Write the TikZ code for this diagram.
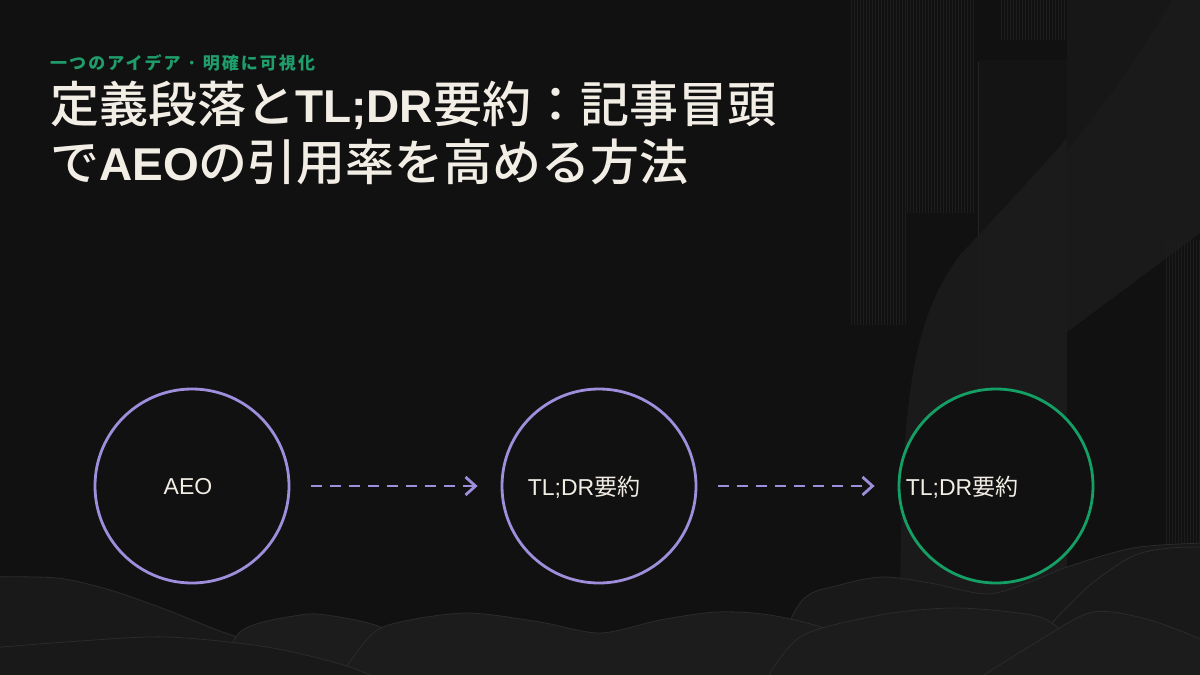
\documentclass[tikz,border=0pt]{standalone}
\usepackage{fontspec}
\newfontfamily\jp{Noto Sans CJK JP}
\IfFontExistsTF{Noto Sans CJK JP Medium}
  {\newfontfamily\jpt{Noto Sans CJK JP Medium}\newcommand\titlewt{}}
  {\newfontfamily\jpt{Noto Sans CJK JP}\newcommand\titlewt{\bfseries}}
\newfontfamily\jpsp{Noto Sans CJK JP}[LetterSpace=12]
\newfontfamily\lsans{Liberation Sans}
\newcommand\titlelatin[1]{{\lsans\bfseries\fontsize{46}{58}\selectfont #1}}
\usetikzlibrary{arrows.meta}
\definecolor{bg}{HTML}{111111}
\definecolor{cream}{HTML}{F2EEE6}
\definecolor{subgreen}{HTML}{1F9E6C}
\definecolor{lav}{HTML}{9E8EDB}
\definecolor{grn}{HTML}{14A065}
\definecolor{hillA}{HTML}{191919}
\definecolor{hillB}{HTML}{1C1C1C}
\definecolor{hillEdge}{HTML}{2B2B2B}
\definecolor{sweep}{HTML}{1C1C1C}
\definecolor{stripe}{HTML}{1D1D1D}
\definecolor{darkrect}{HTML}{141414}
\definecolor{rectedge}{HTML}{242424}
\definecolor{topband}{HTML}{171717}
\tikzset{
  ring/.style={circle, minimum size=194pt, line width=2.8pt, draw=lav, fill=bg},
  ringgreen/.style={ring, draw=grn},
  lbl/.style={text=cream, inner sep=0pt, font=\jp\fontsize{23}{28}\selectfont},
  flow/.style={draw=lav, line width=2.8pt, dash pattern=on 11pt off 8pt,
    -{Straight Barb[length=10pt,width=18pt,line width=2.8pt]},
    shorten <=21pt, shorten >=23pt},
  stripeline/.style={draw=stripe, line width=0.9pt},
  hill/.style={fill=hillA, draw=hillEdge, line width=0.8pt},
  hillb/.style={fill=hillB, draw=hillEdge, line width=0.8pt},
  titletext/.style={anchor=base west, inner sep=0pt, text=cream, font=\jpt\titlewt\fontsize{49}{58}\selectfont},
}
\begin{document}
\begin{tikzpicture}[x=1pt,y=-1pt]
\fill[bg] (0,0) rectangle (1200,675);
\useasboundingbox (0,0) rectangle (1200,675);
% right-side texture
\foreach \x in {851,854,...,905} \draw[stripeline] (\x,0) -- (\x,325);
\foreach \x in {907,910,...,975} \draw[stripeline] (\x,0) -- (\x,213);
\foreach \x in {1001,1004,...,1066} \draw[stripeline] (\x,0) -- (\x,40);
\foreach \x in {1166,1169,...,1200} \draw[stripeline] (\x,240) -- (\x,560);
\fill[darkrect] (978,60) rectangle (1067,675);
\draw[rectedge, line width=0.8pt] (978,62) -- (978,600);
\fill[sweep, opacity=0.9] (1172,0) -- (1200,0) -- (1200,233) -- (1067,332) -- (1067,675) -- (900,675)
  .. controls (900,420) and (905,330) .. (960,255)
  .. controls (1020,190) and (1100,110) .. (1172,0) -- cycle;
\fill[topband] (1067,0) -- (1172,0) .. controls (1130,70) and (1100,110) .. (1067,150) -- cycle;
% bottom hills (back to front)
\path[hill] plot[smooth] coordinates {(760,690) (800,603) (840,585) (883,577) (930,583) (987,594) (1030,582) (1067,567) (1133,548) (1200,543) (1215,543)} -- (1215,690) -- cycle;
\path[hill] plot[smooth] coordinates {(-10,577) (57,578) (110,590) (167,610) (217,630) (250,641) (330,668) (380,690)} -- (-10,690) -- cycle;
\path[hillb] plot[smooth] coordinates {(215,690) (240,632) (300,615) (333,616) (383,628) (430,660) (460,690)} -- cycle;
\path[hillb] plot[smooth] coordinates {(330,690) (370,636) (400,622) (467,613) (540,622) (600,633) (660,620) (717,612) (770,615) (830,630) (890,660) (920,690)} -- cycle;
\path[hill] plot[smooth] coordinates {(-10,648) (80,641) (167,637) (267,647) (350,667) (400,690)} -- (-10,690) -- cycle;
\path[hill] plot[smooth] coordinates {(1050,625) (1090,585) (1133,556) (1170,548) (1215,547)} -- (1215,690) -- (1050,690) -- cycle;
\path[hillb] plot[smooth] coordinates {(760,690) (800,637) (880,615) (950,608) (1010,612) (1047,620) (1080,650) (1100,690)} -- cycle;
\path[hillb] plot[smooth] coordinates {(960,690) (1040,640) (1093,612) (1150,620) (1215,645)} -- (1215,690) -- cycle;
% title
\node[anchor=base west, inner sep=0pt, text=subgreen, font=\jpsp\bfseries\fontsize{17}{20}\selectfont] (sub) at (50,69) {一つのアイデア · 明確に可視化};
\node[titletext] (t1) at (50,122) {定義段落と\titlelatin{TL;DR}要約：記事冒頭};
\node[titletext] (t2) at (50,180) {で\titlelatin{AEO}の引用率を高める方法};
% diagram
\node[ring] (c1) at (192,486) {};
\node[ring] (c2) at (599,486) {};
\node[ringgreen] (c3) at (996,486) {};
\node[lbl] (l1) at (188,487) {\lsans AEO};
\node[lbl] (l2) at (584,487) {{\lsans TL;DR}要約};
\node[lbl] (l3) at (962,487) {{\lsans TL;DR}要約};
\draw[flow] (c1) -- (c2);
\draw[flow] (c2) -- (c3);
\end{tikzpicture}
\end{document}
